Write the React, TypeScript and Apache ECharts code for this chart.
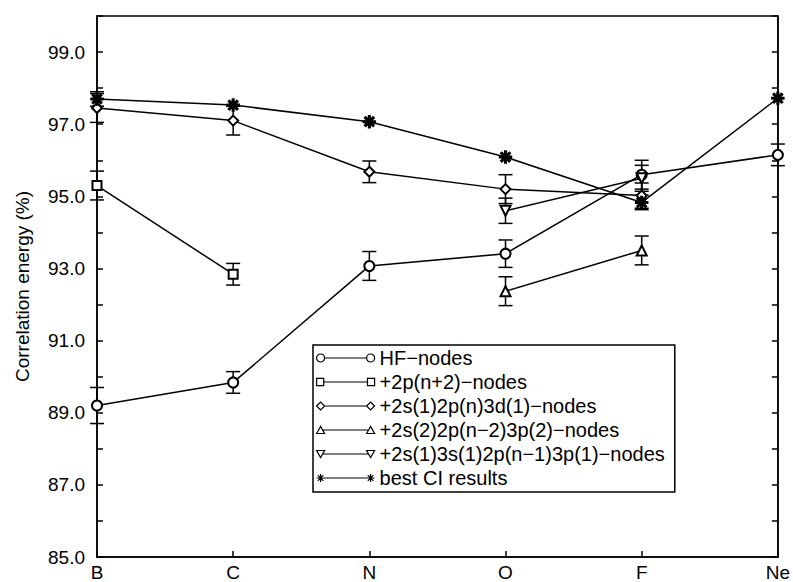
import React, { useEffect, useRef } from "react";
import * as echarts from "echarts";

const categories = ["B", "C", "N", "O", "F", "Ne"];

const seriesNames = [
  "HF−nodes",
  "+2p(n+2)−nodes",
  "+2s(1)2p(n)3d(1)−nodes",
  "+2s(2)2p(n−2)3p(2)−nodes",
  "+2s(1)3s(1)2p(n−1)3p(1)−nodes",
  "best CI results",
];

const hfValues = [89.2, 89.84, 93.07, 93.41, 95.6, 96.15];
const hfErrors = [0.5, 0.3, 0.4, 0.38, 0.4, 0.3];

const p2Values = [95.3, 92.84, null, null, null, null];
const p2Errors = [0.4, 0.3, null, null, null, null];

const d3Values = [97.45, 97.1, 95.68, 95.2, 95.02, null];
const d3Errors = [0.4, 0.4, 0.3, 0.4, 0.35, null];

const p3Values = [null, null, null, 92.37, 93.5, null];
const p3Errors = [null, null, null, 0.4, 0.4, null];

const s3Values = [null, null, null, 94.6, 95.5, null];
const s3Errors = [null, null, null, 0.35, 0.36, null];

const ciValues = [97.7, 97.53, 97.07, 96.09, 94.83, 97.72];
const ciErrors = [0.2, null, null, null, 0.2, null];

const yTicks = [85, 87, 89, 91, 93, 95, 97, 99];

const FONT = "'Liberation Sans', Arial, Helvetica, sans-serif";

const starPath =
  "path://M-6,-0.8L6,-0.8L6,0.8L-6,0.8Z M-0.8,-6L0.8,-6L0.8,6L-0.8,6Z M3.67,4.8L4.8,3.67L-3.67,-4.8L-4.8,-3.67Z M4.8,-3.67L3.67,-4.8L-4.8,3.67L-3.67,4.8Z";

const legendIcons = [
  "path://M0,5A4,4,0,1,0,8,5A4,4,0,1,0,0,5M8,5L50,5M50,5A4,4,0,1,0,58,5A4,4,0,1,0,50,5",
  "path://M0.5,1.5L7.5,1.5L7.5,8.5L0.5,8.5ZM7.5,5L50.5,5M50.5,1.5L57.5,1.5L57.5,8.5L50.5,8.5Z",
  "path://M0,5L4,1L8,5L4,9ZM8,5L50,5M50,5L54,1L58,5L54,9Z",
  "path://M0,8.5L4,1.5L8,8.5ZM6,5L52,5M50,8.5L54,1.5L58,8.5Z",
  "path://M0,1.5L8,1.5L4,8.5ZM6,5L52,5M50,1.5L58,1.5L54,8.5Z",
  "path://M0,5L8,5M4,1L4,9M1.2,2.2L6.8,7.8M1.2,7.8L6.8,2.2M8,5L50,5M50,5L58,5M54,1L54,9M51.2,2.2L56.8,7.8M51.2,7.8L56.8,2.2",
];

export default function App() {
  const ref = useRef<HTMLDivElement>(null);

  useEffect(() => {
    if (!ref.current) return;
    const chart = echarts.init(ref.current, null, { renderer: "svg" });

    const allValues = [hfValues, p2Values, d3Values, p3Values, s3Values, ciValues];
    const allErrors = [hfErrors, p2Errors, d3Errors, p3Errors, s3Errors, ciErrors];
    const symbols = ["emptyCircle", "emptyRect", "emptyDiamond", "emptyTriangle", "emptyTriangle", starPath];
    const rotations = [0, 0, 0, 0, 180, 0];
    const sizes = [10, 9, 10, 10, 10, 12];

    const errData: number[][] = [];
    allValues.forEach((vals, si) => {
      vals.forEach((v, i) => {
        const e = allErrors[si][i];
        if (v != null && e != null) errData.push([i, v - e, v + e]);
      });
    });

    const lineSeries = allValues.map((vals, si) => ({
      name: seriesNames[si],
      type: "line",
      data: vals.map((v) => (v == null ? "-" : v)),
      symbol: symbols[si],
      symbolSize: sizes[si],
      symbolRotate: rotations[si],
      showAllSymbol: true,
      lineStyle: { color: "#000", width: 1.5 },
      itemStyle: { color: "#000", borderColor: "#000", borderWidth: si === 2 ? 2 : 1.5 },
      z: 3,
    }));

    const errorSeries = {
      type: "custom",
      name: "errors",
      data: errData,
      z: 2,
      renderItem: (_params: any, api: any) => {
        const x = api.value(0);
        const lo = api.coord([x, api.value(1)]);
        const hi = api.coord([x, api.value(2)]);
        const hw = 7;
        const style = { stroke: "#000", lineWidth: 1.5 };
        return {
          type: "group",
          children: [
            { type: "line", shape: { x1: lo[0], y1: lo[1], x2: hi[0], y2: hi[1] }, style },
            { type: "line", shape: { x1: lo[0] - hw, y1: lo[1], x2: lo[0] + hw, y2: lo[1] }, style },
            { type: "line", shape: { x1: hi[0] - hw, y1: hi[1], x2: hi[0] + hw, y2: hi[1] }, style },
          ],
        };
      },
    };

    chart.setOption({
      animation: false,
      backgroundColor: "#fff",
      grid: {
        left: 97,
        right: 15,
        top: 16,
        bottom: 22,
        show: true,
        borderColor: "#000",
        borderWidth: 1.5,
        backgroundColor: "transparent",
      },
      legend: {
        orient: "vertical",
        left: 313,
        top: 345,
        padding: [3, 10, 4, 3],
        itemWidth: 58,
        itemHeight: 8,
        itemGap: 4,
        borderColor: "#000",
        borderWidth: 1.5,
        backgroundColor: "#fff",
        selectedMode: false,
        textStyle: { fontSize: 20, color: "#000", fontFamily: FONT, lineHeight: 20 },
        data: seriesNames.map((n, i) => ({
          name: n,
          icon: legendIcons[i],
          itemStyle: { color: "rgba(0,0,0,0)", borderColor: "#000", borderWidth: 1.2 },
        })),
      },
      xAxis: {
        type: "category",
        data: categories,
        boundaryGap: false,
        axisLine: { lineStyle: { color: "#000", width: 1.5 } },
        axisTick: { inside: true, length: 6, lineStyle: { color: "#000", width: 1.5 } },
        axisLabel: { color: "#000", fontSize: 19, fontFamily: FONT, margin: 6 },
        splitLine: { show: false },
      },
      yAxis: [
        {
          type: "value",
          min: 85,
          max: 100,
          interval: 1,
          name: "Correlation energy (%)",
          nameLocation: "middle",
          nameGap: 65,
          nameTextStyle: { color: "#000", fontSize: 19, fontFamily: FONT },
          axisLine: { show: true, lineStyle: { color: "#000", width: 1.5 } },
          axisTick: { show: true, inside: true, length: 6, lineStyle: { color: "#000", width: 1.5 } },
          axisLabel: {
            color: "#000",
            fontSize: 19,
            fontFamily: FONT,
            margin: 12,
            formatter: (v: number) => (yTicks.indexOf(v) >= 0 ? v.toFixed(1) : ""),
          },
          splitLine: { show: false },
        },
        {
          type: "value",
          min: 85,
          max: 100,
          interval: 1,
          position: "right",
          axisLine: { show: true, lineStyle: { color: "#000", width: 1.5 } },
          axisTick: { show: true, inside: true, length: 6, lineStyle: { color: "#000", width: 1.5 } },
          axisLabel: { show: false },
          splitLine: { show: false },
        },
      ],
      series: [errorSeries, ...lineSeries],
    });

    return () => chart.dispose();
  }, []);

  return (
    <div
      ref={ref}
      style={{ position: "absolute", left: 0, top: 0, width: 793, height: 582, background: "#fff" }}
    />
  );
}
